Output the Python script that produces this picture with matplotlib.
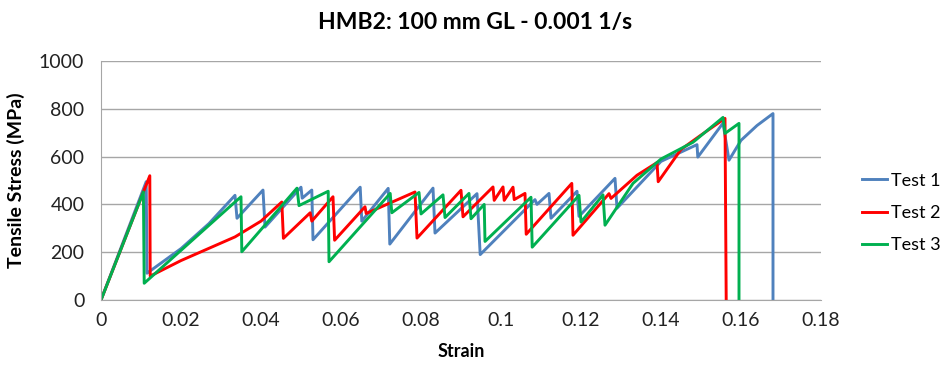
import matplotlib
matplotlib.use('Agg')
import matplotlib.pyplot as plt
from matplotlib.ticker import FormatStrFormatter

# strain / stress (MPa)
TEST1_STRAIN = [0, 0.0113, 0.0115, 0.020, 0.027, 0.0335, 0.034, 0.0405, 0.041, 0.050, 0.0503,
                0.0527, 0.053, 0.0648, 0.0652, 0.0718, 0.0722, 0.083, 0.0835, 0.094, 0.0948,
                0.1085, 0.109, 0.112, 0.1125, 0.119, 0.1195, 0.1285, 0.129, 0.140, 0.149,
                0.1492, 0.1555, 0.157, 0.160, 0.164, 0.168, 0.168]
TEST1_STRESS = [0, 495, 112, 215, 320, 438, 342, 460, 305, 472, 426,
                460, 252, 472, 330, 467, 234, 468, 280, 445, 190,
                420, 400, 446, 342, 455, 350, 509, 384, 580, 650,
                598, 740, 585, 668, 730, 780, 0]

TEST2_STRAIN = [0, 0.0122, 0.0123, 0.020, 0.0335, 0.040, 0.0452, 0.0456, 0.0523, 0.0527,
                0.058, 0.0584, 0.066, 0.0663, 0.0785, 0.079, 0.090, 0.0905, 0.098, 0.0983,
                0.1005, 0.1008, 0.103, 0.1033, 0.106, 0.1063, 0.1177, 0.118, 0.127, 0.1275,
                0.134, 0.139, 0.1393, 0.145, 0.150, 0.156, 0.1563]
TEST2_STRESS = [0, 520, 100, 165, 264, 330, 410, 258, 365, 330,
                432, 250, 390, 362, 452, 259, 459, 348, 473, 417,
                473, 417, 472, 420, 446, 275, 488, 271, 445, 425,
                522, 575, 495, 630, 690, 760, 0]

TEST3_STRAIN = [0, 0.0106, 0.0108, 0.0335, 0.035, 0.0352, 0.049, 0.0495, 0.0568, 0.057,
                0.0723, 0.0727, 0.0795, 0.080, 0.0855, 0.086, 0.092, 0.0925, 0.0958, 0.096,
                0.1075, 0.1078, 0.1195, 0.120, 0.1255, 0.126, 0.133, 0.140, 0.148, 0.1555,
                0.156, 0.1595, 0.1595]
TEST3_STRESS = [0, 452, 70, 410, 432, 202, 468, 395, 455, 160,
                446, 365, 450, 360, 440, 345, 446, 340, 400, 245,
                430, 221, 438, 326, 440, 313, 488, 590, 660, 764,
                697, 739, 0]

SERIES = [('Test 1', TEST1_STRAIN, TEST1_STRESS, '#4F81BD'),
          ('Test 2', TEST2_STRAIN, TEST2_STRESS, '#FF0000'),
          ('Test 3', TEST3_STRAIN, TEST3_STRESS, '#00B050')]

plt.rcParams['font.family'] = ['Lato', 'DejaVu Sans']

fig = plt.figure(figsize=(9.46, 3.68), dpi=100)
ax = fig.add_axes([101 / 946, 1 - 300 / 368, 720 / 946, 239 / 368])

for name, xs, ys, color in SERIES:
    ax.plot(xs, ys, color=color, linewidth=2.1, label=name)

ax.set_xlim(0, 0.18)
ax.set_ylim(0, 1000)
ax.set_xticks([0, 0.02, 0.04, 0.06, 0.08, 0.1, 0.12, 0.14, 0.16, 0.18])
ax.set_xticklabels(['0', '0.02', '0.04', '0.06', '0.08', '0.1', '0.12', '0.14', '0.16', '0.18'])
ax.set_yticks(range(0, 1001, 200))
ax.yaxis.set_major_formatter(FormatStrFormatter('%d'))
ax.tick_params(length=0, labelsize=14, colors='#222222')
ax.tick_params(axis='y', pad=12)
ax.tick_params(axis='x', pad=9)
ax.grid(axis='y', color='#a6a6a6', linewidth=1)
ax.set_axisbelow(True)
for side in ['top', 'right']:
    ax.spines[side].set_visible(False)
for side in ['left', 'bottom']:
    ax.spines[side].set_color('#a6a6a6')

ax.set_xlabel('Strain', fontsize=13, fontweight='bold', labelpad=10)
ax.set_ylabel('Tensile Stress (MPa)', fontsize=14, fontweight='bold', labelpad=10)
fig.text(0.502, 1 - 22 / 368, 'HMB2: 100 mm GL - 0.001 1/s', fontsize=16.5, fontweight='bold',
         ha='center', va='center')

ax.legend(loc='center left', bbox_to_anchor=(1.057, 0.364), frameon=False, fontsize=13,
          handlelength=1.4, handletextpad=0.2, labelspacing=0.9, borderpad=0,
          borderaxespad=0)

fig.savefig('out.png', dpi=100)
